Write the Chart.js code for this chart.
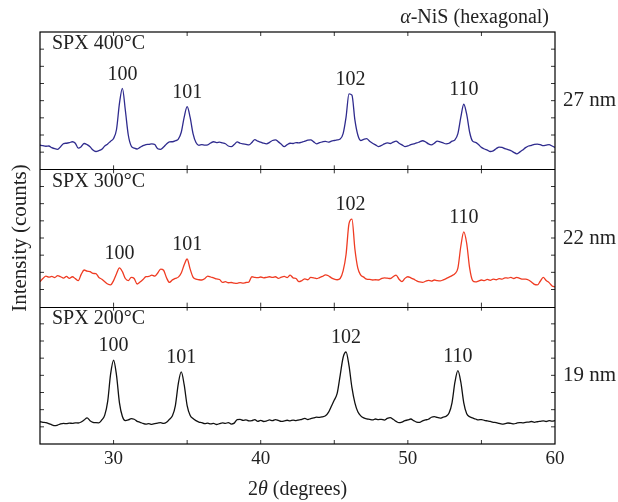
<!DOCTYPE html>
<html>
<head>
<meta charset="utf-8">
<script src="https://cdn.jsdelivr.net/npm/chart.js@4/dist/chart.umd.min.js"></script>
<style>
  html, body { margin: 0; padding: 0; background: #fff; }
  #wrap { width: 618px; height: 502px; }
</style>
</head>
<body>
<div id="wrap"><canvas id="xrd" width="618" height="502"></canvas></div>
<script>
// 2θ grid (degrees), step 0.2
const twoTheta = [
  25.0, 25.2, 25.4, 25.6, 25.8, 26.0, 26.2, 26.4, 26.6, 26.8,
  27.0, 27.2, 27.4, 27.6, 27.8, 28.0, 28.2, 28.4, 28.6, 28.8,
  29.0, 29.2, 29.4, 29.6, 29.8, 30.0, 30.2, 30.4, 30.6, 30.8,
  31.0, 31.2, 31.4, 31.6, 31.8, 32.0, 32.2, 32.4, 32.6, 32.8,
  33.0, 33.2, 33.4, 33.6, 33.8, 34.0, 34.2, 34.4, 34.6, 34.8,
  35.0, 35.2, 35.4, 35.6, 35.8, 36.0, 36.2, 36.4, 36.6, 36.8,
  37.0, 37.2, 37.4, 37.6, 37.8, 38.0, 38.2, 38.4, 38.6, 38.8,
  39.0, 39.2, 39.4, 39.6, 39.8, 40.0, 40.2, 40.4, 40.6, 40.8,
  41.0, 41.2, 41.4, 41.6, 41.8, 42.0, 42.2, 42.4, 42.6, 42.8,
  43.0, 43.2, 43.4, 43.6, 43.8, 44.0, 44.2, 44.4, 44.6, 44.8,
  45.0, 45.2, 45.4, 45.6, 45.8, 46.0, 46.2, 46.4, 46.6, 46.8,
  47.0, 47.2, 47.4, 47.6, 47.8, 48.0, 48.2, 48.4, 48.6, 48.8,
  49.0, 49.2, 49.4, 49.6, 49.8, 50.0, 50.2, 50.4, 50.6, 50.8,
  51.0, 51.2, 51.4, 51.6, 51.8, 52.0, 52.2, 52.4, 52.6, 52.8,
  53.0, 53.2, 53.4, 53.6, 53.8, 54.0, 54.2, 54.4, 54.6, 54.8,
  55.0, 55.2, 55.4, 55.6, 55.8, 56.0, 56.2, 56.4, 56.6, 56.8,
  57.0, 57.2, 57.4, 57.6, 57.8, 58.0, 58.2, 58.4, 58.6, 58.8,
  59.0, 59.2, 59.4, 59.6, 59.8, 60.0
];

// intensity (arb. counts) per sample, each panel spans 0..100
const spx200 = [
  16.2, 15.8, 15.5, 14.8, 14.0, 13.4, 13.8, 14.6, 15.0, 14.8,
  15.2, 15.0, 15.4, 15.3, 16.0, 17.5, 19.0, 17.0, 15.8, 15.5,
  15.4, 17.5, 21.0, 31.0, 51.0, 61.0, 50.0, 30.0, 20.0, 17.0,
  17.5, 18.5, 18.0, 16.5, 15.8, 15.0, 14.5, 14.8, 14.3, 14.8,
  15.2, 15.5, 15.0, 15.8, 18.0, 20.5, 28.0, 44.0, 52.5, 43.0,
  28.0, 21.0, 18.5, 17.0, 16.0, 15.5, 14.8, 15.2, 14.6, 15.0,
  14.2, 14.8, 15.4, 15.0, 15.6, 14.5, 15.2, 17.8, 18.0, 17.2,
  17.6, 16.8, 17.0, 17.8, 16.5, 17.2, 16.4, 16.8, 17.5, 17.0,
  17.8, 17.2, 16.5, 16.8, 17.3, 16.9, 17.4, 17.0, 17.6, 18.0,
  18.6, 17.8, 18.5, 19.0, 19.5, 19.4, 19.8, 20.5, 23.0, 27.5,
  32.0, 37.0, 50.0, 63.0, 67.0, 57.0, 41.0, 30.0, 23.5, 20.5,
  19.0, 18.3, 18.0, 17.5, 18.2, 17.8, 18.0, 17.4, 18.6, 19.2,
  18.0, 16.5, 15.5, 16.0, 17.0, 17.5, 18.2, 17.0, 16.0, 15.8,
  16.8, 17.5, 18.0, 19.5, 20.0, 19.3, 18.8, 19.5, 20.2, 22.5,
  30.0, 45.0, 53.4, 45.0, 30.0, 22.0, 19.8, 19.0, 18.2, 17.6,
  17.8, 17.2, 16.8, 16.4, 15.8, 15.6, 15.0, 14.5, 14.8, 15.3,
  15.0, 14.6, 15.2, 15.6, 15.4, 15.8, 16.0, 16.4, 15.8, 16.2,
  16.5, 16.8, 16.4, 17.0, 16.6, 17.0
];

const spx300 = [
  18.2, 20.5, 22.3, 21.5, 22.0, 21.2, 22.6, 21.8, 20.8, 22.0,
  20.6, 21.8, 20.4, 19.0, 23.5, 26.7, 25.8, 25.5, 24.2, 24.0,
  21.3, 20.0, 18.2, 16.5, 15.9, 19.0, 24.0, 28.2, 25.5, 20.5,
  19.0, 21.3, 20.5, 16.5, 18.0, 19.8, 21.8, 22.0, 23.0, 22.2,
  24.5, 27.4, 26.5, 21.0, 17.7, 19.5, 20.6, 21.5, 24.5, 30.5,
  34.7, 27.5, 21.5, 20.0, 19.6, 19.4, 20.4, 22.3, 21.6, 21.0,
  20.2, 19.8, 17.7, 18.2, 17.4, 17.6, 17.2, 17.0, 17.5, 17.2,
  17.6, 18.0, 21.8, 21.4, 21.2, 21.6, 21.0, 21.4, 21.8, 21.3,
  21.8, 20.6, 21.5, 22.0, 21.2, 23.0, 21.0, 20.5, 18.2, 19.0,
  20.2, 19.6, 21.3, 21.0, 20.4, 21.2, 22.0, 23.1, 22.5, 21.0,
  20.0, 19.6, 20.5, 26.0, 38.0, 60.5, 63.8, 42.0, 28.0, 23.0,
  21.5, 20.0, 19.8, 19.4, 19.6, 19.4, 20.4, 21.0, 20.8, 20.5,
  21.8, 23.0, 20.0, 18.2, 20.6, 21.8, 21.0, 20.0, 18.8, 18.0,
  17.7, 18.5, 19.2, 18.6, 19.4, 19.0, 18.8, 19.5, 20.4, 21.5,
  22.6, 24.0, 28.0, 44.0, 54.4, 46.0, 28.0, 19.0, 18.0, 18.6,
  19.4, 19.0, 19.8, 19.2, 20.0, 19.6, 20.4, 20.0, 21.0, 20.8,
  21.3, 20.5, 21.4, 20.6, 20.0, 20.0, 19.4, 18.0, 16.2, 15.8,
  18.5, 21.3, 19.0, 17.5, 15.0, 14.4
];

const spx400 = [
  17.7, 17.2, 16.8, 17.0, 15.8, 15.0, 14.6, 16.5, 18.8, 19.0,
  19.4, 20.1, 19.0, 15.4, 16.5, 18.8, 18.0, 16.5, 14.0, 13.0,
  13.6, 14.6, 17.0, 18.5, 20.5, 22.5, 29.0, 48.0, 59.0, 43.0,
  25.0, 17.0, 15.5, 14.8, 16.0, 17.2, 18.0, 18.2, 18.6, 18.0,
  15.0, 14.6, 16.2, 18.5, 20.0, 20.1, 20.8, 22.0, 27.0, 38.0,
  45.6, 38.0, 26.0, 19.5, 17.5, 18.0, 17.6, 17.8, 19.2, 20.1,
  19.5, 19.8, 19.2, 18.6, 17.0, 16.5, 18.0, 20.0, 19.0, 18.5,
  18.2, 17.8, 19.5, 21.7, 20.5, 19.8, 19.0, 18.6, 19.6, 21.0,
  21.5, 20.0, 18.2, 16.5, 18.0, 19.0, 18.8, 19.5, 19.2, 19.8,
  20.5, 21.2, 21.5, 20.0, 18.6, 19.4, 20.0, 20.4, 19.8, 20.6,
  21.0, 21.4, 22.0, 26.0, 38.0, 55.0, 54.0, 36.0, 25.0, 21.0,
  21.8, 22.3, 20.5, 19.0, 17.8, 16.6, 17.4, 18.5, 19.2, 18.8,
  19.8, 20.5, 19.0, 17.8, 16.6, 17.0, 18.0, 18.6, 19.2, 20.0,
  20.8, 20.0, 18.5, 17.8, 19.0, 20.6, 20.0, 19.2, 18.6, 19.0,
  20.5, 21.5, 26.0, 38.0, 47.4, 40.0, 27.0, 20.5, 19.6, 18.0,
  16.0, 14.8, 14.0, 13.0, 13.5, 15.0, 16.2, 16.0, 15.0, 14.4,
  13.6, 12.4, 11.3, 12.5, 14.0, 15.8, 17.0, 17.5, 18.2, 18.4,
  18.0, 17.2, 17.6, 18.0, 17.0, 16.0
];

// reflections (hkl) and their positions for each sample
const hklLabels = ['100', '101', '102', '110'];
const peaks200 = [30.0, 34.6, 45.8, 53.4];
const peaks300 = [30.4, 35.0, 46.1, 53.8];
const peaks400 = [30.6, 35.0, 46.1, 53.8];

const sampleNames = ['SPX 200°C', 'SPX 300°C', 'SPX 400°C'];
const crystalSizes = ['19 nm', '22 nm', '27 nm'];
const xTickValues = [30, 40, 50, 60];
const xMinorTicks = [30, 35, 40, 45, 50, 55];
const yMinorTicks = [12.5, 25, 37.5, 50, 62.5, 75, 87.5];

const SERIF = '"Liberation Serif", "DejaVu Serif", serif';
const panelSpan = 100;
const samples = [
  { values: spx200, peaks: peaks200, color: '#111111' },
  { values: spx300, peaks: peaks300, color: '#ef3b22' },
  { values: spx400, peaks: peaks400, color: '#2f2b8e' }
];

// each panel is shifted up by one span on a shared y scale
const datasets = samples.map((s, k) => ({
  data: s.values.map((v, i) => ({ x: twoTheta[i], y: v + k * panelSpan })),
  borderColor: s.color,
  borderWidth: 1.3,
  pointRadius: 0,
  tension: 0.4,
  cubicInterpolationMode: 'monotone',
  fill: false
}));

function apexOf(values, pos) {
  let best = 0;
  twoTheta.forEach((t, i) => {
    if (Math.abs(t - pos) <= 0.45 && values[i] > best) best = values[i];
  });
  return best;
}

// draws text pieces side by side, [text, italic] pairs, centred or right-aligned at x
function drawMixed(ctx, parts, x, yPos, size, align) {
  const widths = parts.map(([t, it]) => {
    ctx.font = (it ? 'italic ' : '') + size + 'px ' + SERIF;
    return ctx.measureText(t).width;
  });
  const total = widths.reduce((p, w) => p + w, 0);
  let cx = align === 'right' ? x - total : x - total / 2;
  ctx.textAlign = 'left';
  parts.forEach(([t, it], i) => {
    ctx.font = (it ? 'italic ' : '') + size + 'px ' + SERIF;
    ctx.fillText(t, cx, yPos);
    cx += widths[i];
  });
}

const panelDecor = {
  id: 'panelDecor',
  afterDatasetsDraw(chart) {
    const { ctx, chartArea: a, scales: { x, y } } = chart;
    ctx.save();
    ctx.strokeStyle = '#000';
    ctx.lineWidth = 1.2;
    ctx.strokeRect(a.left, a.top, a.right - a.left, a.bottom - a.top);
    ctx.beginPath();
    [1, 2].forEach(k => {
      const py = Math.round(y.getPixelForValue(k * panelSpan)) + 0.5;
      ctx.moveTo(a.left, py);
      ctx.lineTo(a.right, py);
    });
    ctx.stroke();

    // inward ticks
    ctx.lineWidth = 0.8;
    ctx.beginPath();
    samples.forEach((s, k) => {
      const yb = y.getPixelForValue(k * panelSpan);
      const yt = y.getPixelForValue((k + 1) * panelSpan);
      xMinorTicks.forEach(v => {
        const px = x.getPixelForValue(v);
        ctx.moveTo(px, yb); ctx.lineTo(px, yb - 4);
        ctx.moveTo(px, yt); ctx.lineTo(px, yt + 4);
      });
      yMinorTicks.forEach(v => {
        const py = y.getPixelForValue(k * panelSpan + v);
        ctx.moveTo(a.left, py); ctx.lineTo(a.left + 4, py);
        ctx.moveTo(a.right, py); ctx.lineTo(a.right - 4, py);
      });
    });
    ctx.stroke();

    ctx.fillStyle = '#222';
    ctx.textBaseline = 'middle';
    samples.forEach((s, k) => {
      const top = y.getPixelForValue((k + 1) * panelSpan);
      const mid = y.getPixelForValue(k * panelSpan + panelSpan / 2);
      ctx.font = '20px ' + SERIF;
      ctx.textAlign = 'left';
      ctx.fillText(sampleNames[k], a.left + 12, top + 12);
      ctx.font = '21px ' + SERIF;
      ctx.fillText(crystalSizes[k], a.right + 8, mid);
      ctx.font = '20px ' + SERIF;
      ctx.textAlign = 'center';
      s.peaks.forEach((p, j) => {
        const h = apexOf(s.values, p);
        ctx.fillText(hklLabels[j], x.getPixelForValue(p), y.getPixelForValue(k * panelSpan + h) - 14);
      });
    });

    // phase title and x-axis title with italic greek letters
    drawMixed(ctx, [['α', true], ['-NiS (hexagonal)', false]], a.right - 6, 18, 20, 'right');
    drawMixed(ctx, [['2', false], ['θ', true], [' (degrees)', false]], (a.left + a.right) / 2, 490, 20, 'center');
    ctx.restore();
  }
};

new Chart(document.getElementById('xrd'), {
  type: 'line',
  data: { datasets },
  options: {
    responsive: false,
    animation: false,
    layout: { padding: { left: 0, right: 63, top: 32, bottom: 0 } },
    plugins: { legend: { display: false }, tooltip: { enabled: false } },
    scales: {
      x: {
        type: 'linear',
        min: 25,
        max: 60,
        afterBuildTicks: s => { s.ticks = xTickValues.map(v => ({ value: v })); },
        afterFit: s => { s.height = 58; },
        grid: { display: false, drawTicks: false },
        border: { display: false },
        ticks: { color: '#222', padding: 4, font: { family: SERIF, size: 19 } }
      },
      y: {
        min: 0,
        max: 3 * panelSpan,
        afterFit: s => { s.width = 40; },
        grid: { display: false },
        border: { display: false },
        ticks: { display: false },
        title: { display: true, text: 'Intensity (counts)', color: '#222', padding: { top: 8, bottom: 0 }, font: { family: SERIF, size: 21 } }
      }
    }
  },
  plugins: [panelDecor]
});
</script>
</body>
</html>
